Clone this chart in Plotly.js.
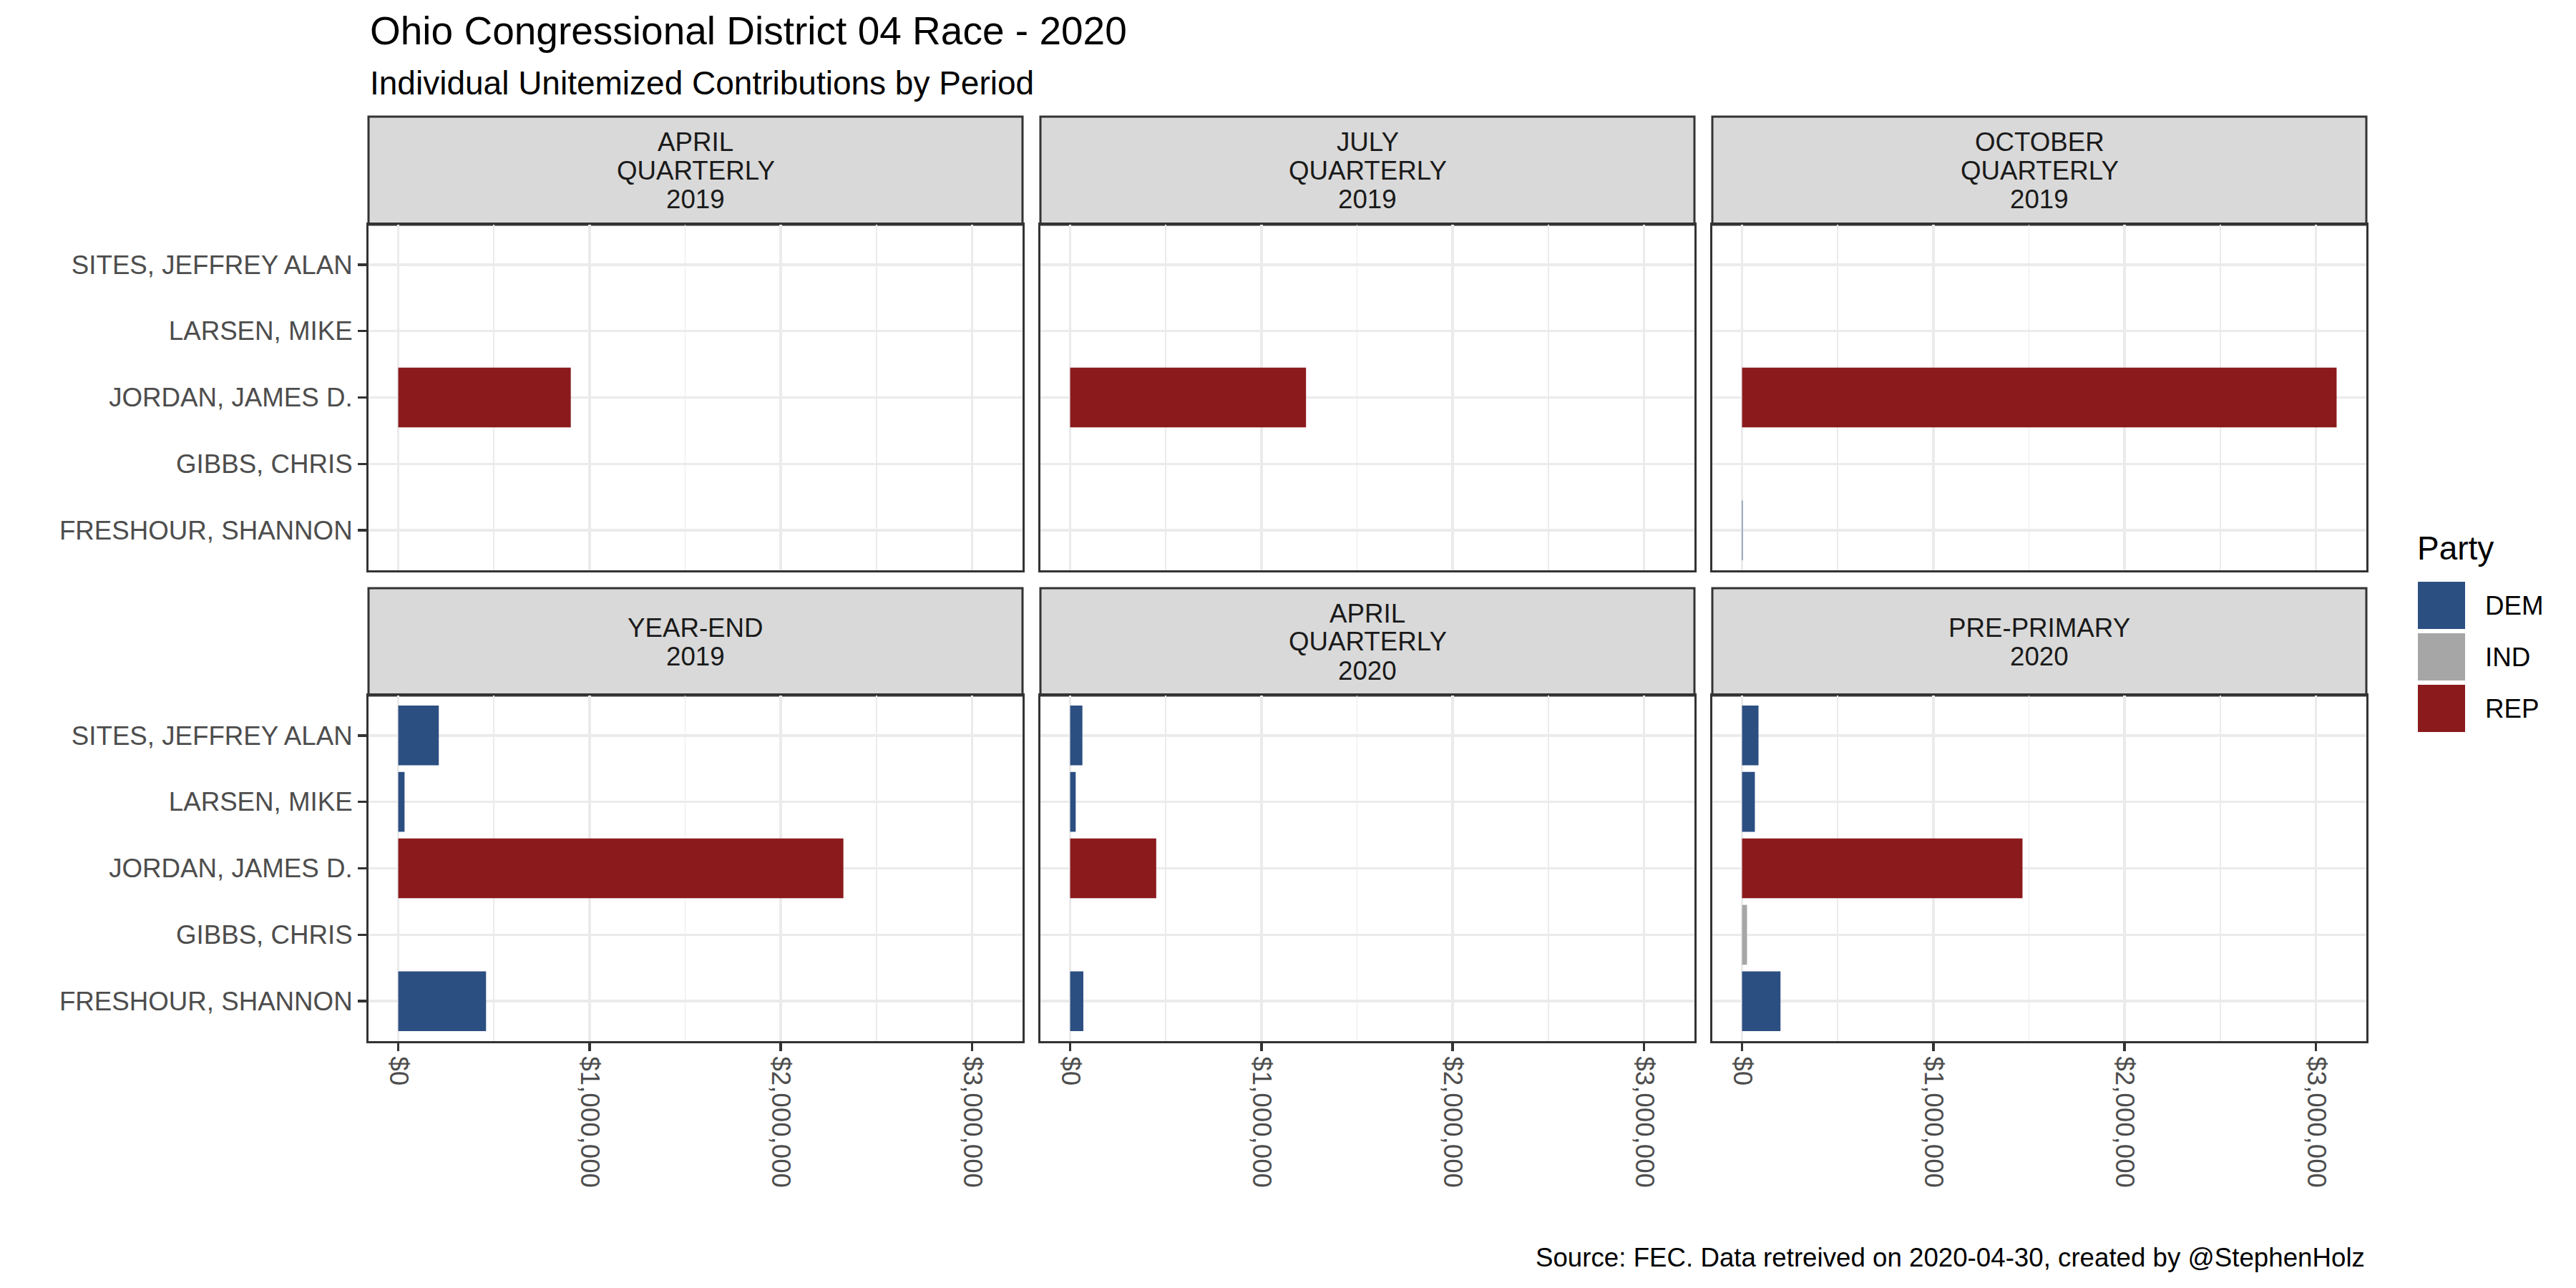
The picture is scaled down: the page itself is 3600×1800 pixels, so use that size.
<!DOCTYPE html>
<html>
<head>
<meta charset="utf-8">
<script src="https://cdn.plot.ly/plotly-3.0.1.min.js"></script>
<style>html,body{margin:0;padding:0;background:#fff;}#chart{width:3600px;height:1800px;}</style>
</head>
<body>
<div id="chart"></div>
<script>
// ---------------- DATA ----------------
const candidates = ['FRESHOUR, SHANNON', 'GIBBS, CHRIS', 'JORDAN, JAMES D.', 'LARSEN, MIKE', 'SITES, JEFFREY ALAN'];
const candidateParty = ['DEM', 'IND', 'REP', 'DEM', 'DEM'];
const periodLabels = ['APRIL\nQUARTERLY\n2019', 'JULY\nQUARTERLY\n2019', 'OCTOBER\nQUARTERLY\n2019',
                      'YEAR-END\n2019', 'APRIL\nQUARTERLY\n2020', 'PRE-PRIMARY\n2020'];
const april2019     = [null, null, 902000, null, null];
const july2019      = [null, null, 1233000, null, null];
const october2019   = [3000, null, 3108000, null, null];
const yearEnd2019   = [459000, null, 2327000, 33000, 212000];
const april2020     = [69000, null, 450000, 29000, 64000];
const prePrimary2020 = [201000, 26000, 1466000, 67000, 86000];
const partyNames = ['DEM', 'IND', 'REP'];
const partyColors = {DEM: '#2C4F82', IND: '#A6A6A6', REP: '#8B1A1D'};
const xTickVals = [0, 1000000, 2000000, 3000000];
const xTickText = xTickVals.map(v => '$' + v.toLocaleString('en-US'));
const titleText = 'Ohio Congressional District 04 Race - 2020';
const subtitleText = 'Individual Unitemized Contributions by Period';
const captionText = 'Source: FEC. Data retreived on 2020-04-30, created by @StephenHolz';
const legendTitle = 'Party';

const periodValues = [april2019, july2019, october2019, yearEnd2019, april2020, prePrimary2020];

// ---------------- LAYOUT GEOMETRY (pixels) ----------------
const W = 3600, H = 1800;
const px = x => x / W;
const py = y => 1 - y / H;
const cols = [[515, 1429], [1454, 2368], [2393, 3307]];
const rows = [[314, 797], [972, 1455]];
const strips = [[163, 314], [822, 972]];
const FONT = 'Liberation Sans, Arial, Helvetica, sans-serif';

let maxV = 0;
periodValues.forEach(a => a.forEach(v => { if (v != null && v > maxV) maxV = v; }));
const xRange = [-0.05 * maxV, 1.05 * maxV];

const traces = [];
const layout = {
  width: W, height: H,
  margin: {l: 0, r: 0, t: 0, b: 0},
  paper_bgcolor: '#ffffff', plot_bgcolor: '#ffffff',
  showlegend: false,
  bargap: 0.1,
  font: {family: FONT, color: '#000000'},
  shapes: [], annotations: []
};

for (let i = 0; i < 6; i++) {
  const r = Math.floor(i / 3), c = i % 3;
  const xn = 'x' + (i + 1), yn = 'y' + (i + 1);
  const vals = periodValues[i];
  const xs = [], ys = [], cs = [];
  vals.forEach((v, k) => {
    if (v != null) { xs.push(v); ys.push(candidates[k]); cs.push(partyColors[candidateParty[k]]); }
  });
  traces.push({
    type: 'bar', orientation: 'h', x: xs, y: ys,
    xaxis: xn, yaxis: yn,
    marker: {color: cs, line: {width: 0}},
    hoverinfo: 'x+y'
  });
  const xa = {
    domain: [px(cols[c][0]), px(cols[c][1])],
    anchor: yn,
    range: xRange,
    tickmode: 'array', tickvals: xTickVals, ticktext: xTickText,
    showgrid: true, gridcolor: '#EBEBEB', gridwidth: 3.6,
    minor: {dtick: 500000, tick0: 0, showgrid: true, gridcolor: '#EBEBEB', gridwidth: 1.8, ticks: ''},
    zeroline: false,
    showline: true, mirror: true, linecolor: '#333333', linewidth: 3,
    fixedrange: true
  };
  if (r === 1) {
    Object.assign(xa, {ticks: 'outside', ticklen: 11, tickwidth: 3.6, tickcolor: '#333333',
      showticklabels: true, tickangle: 90, tickfont: {family: FONT, size: 36.7, color: '#4D4D4D'}});
  } else {
    Object.assign(xa, {ticks: '', showticklabels: false});
  }
  const ya = {
    domain: [py(rows[r][1]), py(rows[r][0])],
    anchor: xn,
    type: 'category',
    categoryorder: 'array', categoryarray: candidates,
    tickvals: candidates,
    range: [-0.6, candidates.length - 0.4],
    showgrid: true, gridcolor: '#EBEBEB', gridwidth: 3.6,
    zeroline: false,
    showline: true, mirror: true, linecolor: '#333333', linewidth: 3,
    fixedrange: true
  };
  if (c === 0) {
    Object.assign(ya, {ticks: 'outside', ticklen: 12, tickwidth: 3.6, tickcolor: '#333333',
      showticklabels: true, tickfont: {family: FONT, size: 36.7, color: '#4D4D4D'}});
  } else {
    Object.assign(ya, {ticks: '', showticklabels: false});
  }
  layout['xaxis' + (i + 1)] = xa;
  layout['yaxis' + (i + 1)] = ya;

  // strip
  layout.shapes.push({type: 'rect', xref: 'paper', yref: 'paper',
    x0: px(cols[c][0]), x1: px(cols[c][1]), y0: py(strips[r][1]), y1: py(strips[r][0]),
    fillcolor: '#D9D9D9', line: {color: '#333333', width: 3}, layer: 'below'});
  const lines = periodLabels[i].split('\n');
  const mid = (strips[r][0] + strips[r][1]) / 2;
  const step = 40;
  lines.forEach((t, k) => {
    const yc = mid + (k - (lines.length - 1) / 2) * step;
    layout.annotations.push({xref: 'paper', yref: 'paper', x: px((cols[c][0] + cols[c][1]) / 2), y: py(yc),
      xanchor: 'center', yanchor: 'middle', text: t, showarrow: false,
      font: {family: FONT, size: 36.7, color: '#1A1A1A'}});
  });
}

// titles
layout.annotations.push({xref: 'paper', yref: 'paper', x: px(515), y: py(43), xanchor: 'left', yanchor: 'middle',
  text: titleText, showarrow: false, font: {family: FONT, size: 55, color: '#000000'}});
layout.annotations.push({xref: 'paper', yref: 'paper', x: px(515), y: py(116), xanchor: 'left', yanchor: 'middle',
  text: subtitleText, showarrow: false, font: {family: FONT, size: 46, color: '#000000'}});
layout.annotations.push({xref: 'paper', yref: 'paper', x: px(3307), y: py(1757), xanchor: 'right', yanchor: 'middle',
  text: captionText, showarrow: false, font: {family: FONT, size: 36.7, color: '#000000'}});

// legend (manual)
layout.annotations.push({xref: 'paper', yref: 'paper', x: px(3376), y: py(766), xanchor: 'left', yanchor: 'middle',
  text: legendTitle, showarrow: false, font: {family: FONT, size: 46, color: '#000000'}});
const keyTops = [813, 885, 957];
partyNames.forEach((p, k) => {
  layout.shapes.push({type: 'rect', xref: 'paper', yref: 'paper',
    x0: px(3379), x1: px(3445), y0: py(keyTops[k] + 66), y1: py(keyTops[k]),
    fillcolor: partyColors[p], line: {width: 0}});
  layout.annotations.push({xref: 'paper', yref: 'paper', x: px(3471), y: py(keyTops[k] + 33), xanchor: 'left', yanchor: 'middle',
    text: p, showarrow: false, font: {family: FONT, size: 36.7, color: '#000000'}});
});

Plotly.newPlot('chart', traces, layout, {displayModeBar: false, responsive: false, staticPlot: true});
</script>
</body>
</html>
